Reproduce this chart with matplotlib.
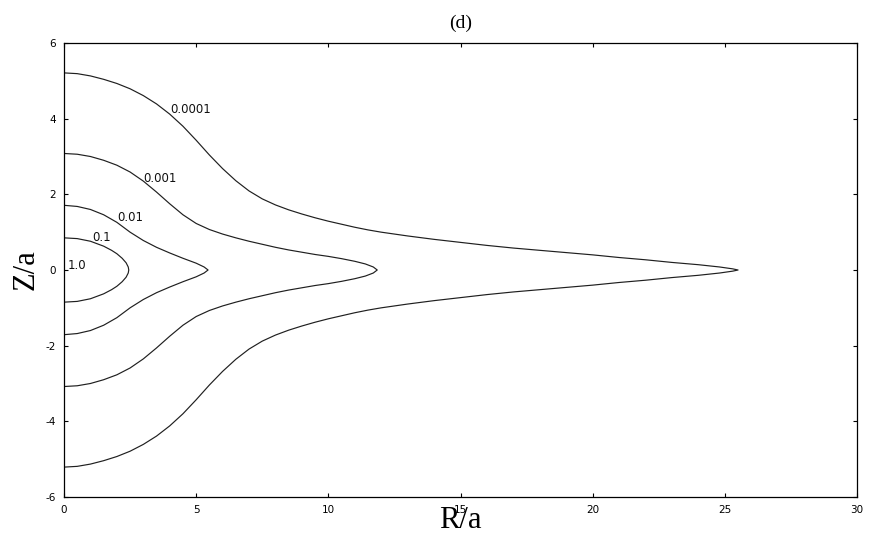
import matplotlib
matplotlib.use("Agg")
import matplotlib.pyplot as plt
import numpy as np

# Contour levels and their traced upper halves (R/a, Z/a); curves are symmetric about Z=0
levels = ["0.0001", "0.001", "0.01", "0.1", "1.0"]

r_00001 = [0, 0.5, 1.0, 1.5, 2.0, 2.5, 3.0, 3.5, 4.0, 4.5, 5.0, 5.5, 6.0, 6.5, 7.0, 7.5,
           8.0, 8.5, 9.0, 9.5, 10.0, 10.5, 11.0, 11.5, 12.0, 13.0, 14.0, 15.0, 16.0, 17.0,
           18.0, 19.0, 20.0, 21.0, 22.0, 23.0, 24.0, 24.8, 25.3, 25.5]
z_00001 = [5.21, 5.19, 5.13, 5.04, 4.93, 4.79, 4.61, 4.39, 4.12, 3.80, 3.43, 3.04, 2.68,
           2.36, 2.09, 1.88, 1.72, 1.59, 1.48, 1.38, 1.29, 1.21, 1.13, 1.06, 1.00, 0.90,
           0.81, 0.73, 0.65, 0.58, 0.52, 0.46, 0.40, 0.33, 0.27, 0.20, 0.14, 0.08, 0.03, 0.0]

r_0001 = [0, 0.5, 1.0, 1.5, 2.0, 2.5, 3.0, 3.5, 4.0, 4.5, 5.0, 5.5, 6.0, 6.5, 7.0, 7.5,
          8.0, 8.5, 9.0, 9.5, 10.0, 10.5, 11.0, 11.4, 11.7, 11.85]
z_0001 = [3.08, 3.06, 3.00, 2.90, 2.77, 2.59, 2.35, 2.06, 1.75, 1.46, 1.23, 1.07, 0.95,
          0.85, 0.76, 0.68, 0.60, 0.53, 0.47, 0.41, 0.36, 0.30, 0.23, 0.16, 0.08, 0.0]

r_001 = [0, 0.5, 1.0, 1.5, 2.0, 2.5, 3.0, 3.5, 4.0, 4.5, 5.0, 5.3, 5.45]
z_001 = [1.71, 1.68, 1.60, 1.46, 1.26, 1.00, 0.78, 0.60, 0.45, 0.31, 0.18, 0.08, 0.0]

r_01 = [0, 0.5, 1.0, 1.5, 1.8, 2.0, 2.2, 2.35, 2.43, 2.45]
z_01 = [0.85, 0.83, 0.76, 0.63, 0.52, 0.43, 0.31, 0.19, 0.08, 0.0]

curves = [(r_00001, z_00001), (r_0001, z_0001), (r_001, z_001), (r_01, z_01)]

# label anchor positions (left edge, vertical centre) in data units
label_r = [4.01, 2.99, 2.00, 1.06, 0.15]
label_z = [4.23, 2.41, 1.40, 0.85, 0.13]

xticks = [0, 5, 10, 15, 20, 25, 30]
yticks = [-6, -4, -2, 0, 2, 4, 6]

fig = plt.figure(figsize=(8.69, 5.38), dpi=100)
ax = fig.add_axes([64 / 869, 41 / 538, 793 / 869, 454 / 538])

for r, z in curves:
    r = np.asarray(r, float)
    z = np.asarray(z, float)
    rr = np.concatenate([r, r[::-1][1:]])
    zz = np.concatenate([z, -z[::-1][1:]])
    ax.plot(rr, zz, color="#1f1f1f", lw=0.85, solid_joinstyle="round")

for txt, lr, lz in zip(levels, label_r, label_z):
    ax.text(lr, lz, txt, ha="left", va="center", fontsize=8.5,
            family="DejaVu Sans", color="#111111")

ax.set_xlim(0, 30)
ax.set_ylim(-6, 6)
ax.set_xticks(xticks)
ax.set_yticks(yticks)
ax.set_xticklabels([str(t) for t in xticks])
ax.set_yticklabels([str(t).replace("\u2212", "-") for t in yticks])
ax.tick_params(direction="in", length=3, width=0.8, top=True, right=True,
               labelsize=7.5, pad=6, colors="black")
for s in ax.spines.values():
    s.set_linewidth(0.9)
    s.set_color("black")

ax.set_title("(d)", fontsize=14, family="Liberation Serif", pad=11)
ax.set_xlabel("R/a", fontsize=22, family="Liberation Serif", va="baseline")
ax.xaxis.set_label_coords(0.5, -0.068)
ax.set_ylabel("Z/a", fontsize=22, family="Liberation Serif", va="center")
ax.yaxis.set_label_coords(-0.048, 0.5)

fig.savefig("out.png", dpi=100)
